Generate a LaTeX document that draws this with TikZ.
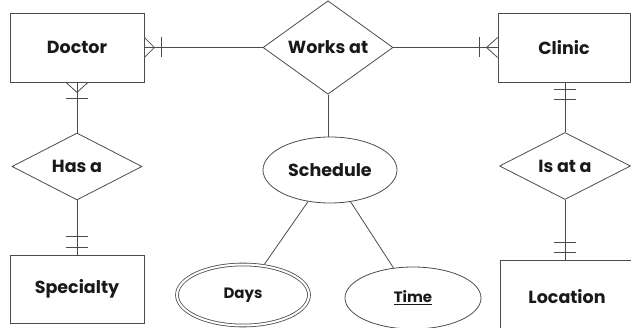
\documentclass[tikz,border=0pt]{standalone}
\usepackage{fontspec}
\setmainfont{Poppins}
\usetikzlibrary{shapes.geometric,calc}

\begin{document}
\begin{tikzpicture}[x=1pt,y=-1pt,
  every node/.style={font=\fontsize{17.5}{20}\selectfont\bfseries, inner sep=0pt, text=black!90},
  ln/.style={draw=black!70, line width=0.8pt},
  entity/.style={ln, rectangle},
  relation/.style={ln, diamond},
  attr/.style={ln, ellipse},
  smalltext/.style={font=\fontsize{15}{18}\selectfont\bfseries},
]
\useasboundingbox (0,0) rectangle (631,328);

% entities
\node[entity, minimum width=134pt, minimum height=69pt] (doctor) at (77,47.5) {Doctor};
\node[entity, minimum width=132pt, minimum height=69pt] (clinic) at (564,47.5) {Clinic};
\node[entity, minimum width=134pt, minimum height=68pt] (specialty) at (77,289) {Specialty};
\node[entity, minimum width=134pt, minimum height=74pt] (location) at (567,297) {Location};

% relationships
\node[relation, minimum width=130pt, minimum height=67pt] (works) at (328,47.5) {Works at};
\node[relation, minimum width=130pt, minimum height=67pt] (hasa) at (77,166.5) {Has a};
\node[relation, minimum width=131pt, minimum height=67pt] (isata) at (565,166) {Is at a};

% attributes
\node[attr, minimum width=134pt, minimum height=66pt] (schedule) at (330,170) {Schedule};
\node[attr, smalltext, double, double distance=2pt, minimum width=132pt, minimum height=61pt] (days) at (243,295) {Days};
\node[attr, smalltext, minimum width=136pt, minimum height=62pt] (time) at (413,298) {\underline{Time}};

% Doctor -- Works at (many, mandatory)
\draw[ln] (doctor) -- (works);
\draw[ln] ($(doctor.east)+(0,-10)$) -- ($(doctor.east)+(10,0)$) -- ($(doctor.east)+(0,10)$);
\draw[ln] ($(doctor.east)+(17,-10)$) -- ($(doctor.east)+(17,10)$);

% Works at -- Clinic (many, mandatory)
\draw[ln] (works) -- (clinic);
\draw[ln] ($(clinic.west)+(0,-10)$) -- ($(clinic.west)+(-11,0)$) -- ($(clinic.west)+(0,10)$);
\draw[ln] ($(clinic.west)+(-18,-10)$) -- ($(clinic.west)+(-18,10)$);

% Doctor -- Has a (many, mandatory)
\draw[ln] (doctor) -- (hasa);
\draw[ln] ($(doctor.south)+(-11,0)$) -- ($(doctor.south)+(0,10)$) -- ($(doctor.south)+(11,0)$);
\draw[ln] ($(doctor.south)+(-11,16)$) -- ($(doctor.south)+(11,16)$);

% Has a -- Specialty (one and only one)
\draw[ln] (hasa) -- (specialty);
\draw[ln] ($(specialty.north)+(-11,-18)$) -- ($(specialty.north)+(11,-18)$);
\draw[ln] ($(specialty.north)+(-11,-7)$) -- ($(specialty.north)+(11,-7)$);

% Clinic -- Is at a (one and only one)
\coordinate (clout) at (isata.north |- clinic.south);
\draw[ln] (clout) -- (isata.north);
\draw[ln] ($(clout)+(-11,7)$) -- ($(clout)+(11,7)$);
\draw[ln] ($(clout)+(-11,17)$) -- ($(clout)+(11,17)$);

% Is at a -- Location (one and only one)
\coordinate (locin) at (isata.south |- location.north);
\draw[ln] (isata.south) -- (locin);
\draw[ln] ($(locin)+(-11,-17)$) -- ($(locin)+(11,-17)$);
\draw[ln] ($(locin)+(-11,-7)$) -- ($(locin)+(11,-7)$);

% attributes of the relationship
\draw[ln] (works.south) -- (works.south |- schedule.north);
\draw[ln, shorten >=1.5pt] (schedule) -- (days);
\draw[ln] (schedule) -- (time);
\end{tikzpicture}
\end{document}
